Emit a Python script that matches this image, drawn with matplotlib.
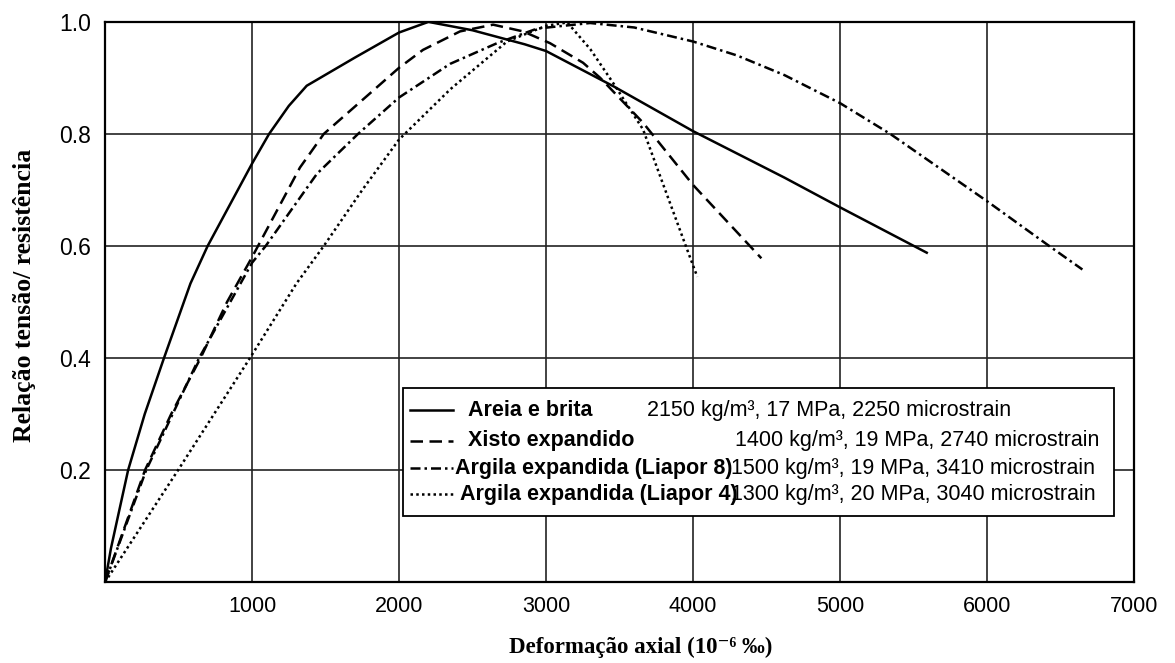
import matplotlib
matplotlib.use("Agg")
import matplotlib.pyplot as plt
from matplotlib.patches import Rectangle
from matplotlib.lines import Line2D

# Areia e brita
x_areia = [0, 40, 90, 157, 270, 401, 581, 698, 1000, 1116, 1250, 1372, 1698, 2000, 2200,
           2500, 2855, 3000, 3459, 4000, 4622, 5000, 5590]
y_areia = [0, 0.06, 0.12, 0.20, 0.30, 0.40, 0.533, 0.60, 0.747, 0.80, 0.85, 0.886, 0.936, 0.981, 1.0,
           0.985, 0.96, 0.948, 0.885, 0.805, 0.722, 0.669, 0.588]
# Xisto expandido
x_xisto = [0, 272, 450, 650, 830, 1000, 1326, 1488, 2000, 2163, 2415, 2640, 2844,
           3027, 3252, 3369, 3660, 4000, 4465]
y_xisto = [0, 0.20, 0.30, 0.40, 0.50, 0.58, 0.74, 0.80, 0.918, 0.950, 0.983, 0.995, 0.983,
           0.962, 0.927, 0.90, 0.82, 0.709, 0.578]
# Argila expandida (Liapor 8)
x_lia8 = [0, 280, 640, 1000, 1093, 1442, 1721, 2000, 2347, 2667, 2939, 3300, 3600,
          4000, 4300, 4622, 5000, 5342, 6000, 6423, 6649]
y_lia8 = [0, 0.20, 0.40, 0.57, 0.60, 0.729, 0.80, 0.865, 0.925, 0.962, 0.988, 0.998, 0.99,
          0.965, 0.94, 0.905, 0.855, 0.80, 0.68, 0.60, 0.558]
# Argila expandida (Liapor 4)
x_lia4 = [0, 497, 986, 1302, 1488, 1750, 2000, 2350, 2735, 3000, 3145, 3302, 3459, 3660,
          3794, 3951, 4029]
y_lia4 = [0, 0.20, 0.40, 0.533, 0.60, 0.70, 0.79, 0.88, 0.965, 0.993, 0.999, 0.951, 0.89, 0.808,
          0.712, 0.60, 0.545]

names = ["Areia e brita", "Xisto expandido", "Argila expandida (Liapor 8)",
         "Argila expandida (Liapor 4)"]
props = ["2150 kg/m³, 17 MPa, 2250 microstrain", "1400 kg/m³, 19 MPa, 2740 microstrain",
         "1500 kg/m³, 19 MPa, 3410 microstrain", "1300 kg/m³, 20 MPa, 3040 microstrain"]
xticks = [1000, 2000, 3000, 4000, 5000, 6000, 7000]
yticks = [0.2, 0.4, 0.6, 0.8, 1.0]

styles = ["-", (0, (5, 2.6)), (0, (4, 1.6, 1, 1.6)), (0, (1, 1.3))]
sans = ["Liberation Sans", "DejaVu Sans"]
serif = ["Liberation Serif", "DejaVu Serif"]

fig = plt.figure(figsize=(11.75, 6.63), dpi=100, facecolor="white")
ax = fig.add_axes([0.0894, 0.122, 0.8757, 0.845])

series = [(x_areia, y_areia), (x_xisto, y_xisto), (x_lia8, y_lia8), (x_lia4, y_lia4)]
for (xs, ys), ls in zip(series, styles):
    ax.plot(xs, ys, color="black", lw=1.8, ls=ls, zorder=3)

ax.set_xlim(0, 7000); ax.set_ylim(0, 1.0)
ax.set_xticks(xticks); ax.set_yticks(yticks)
ax.set_xticklabels([str(t) for t in xticks], family=sans, fontsize=15.5)
ax.set_yticklabels([f"{t:.1f}" for t in yticks], family=sans, fontsize=16.5)
ax.tick_params(length=0, pad=10)
ax.grid(True, color="#222222", lw=1.2)
for s in ax.spines.values():
    s.set_linewidth(1.6)

fig.text(641/1175, 1 - 647/663, "Deformação axial (10⁻⁶ ‰)", family=serif, fontweight="bold",
         fontsize=16.5, ha="center", va="center")
fig.text(25/1175, 1 - 295/663, "Relação tensão/ resistência", family=serif, fontweight="bold",
         fontsize=18.5, ha="center", va="center", rotation=90)

# legend box drawn by hand so the two text columns line up like the original
ax.add_patch(Rectangle((0.290, 0.118), 0.691, 0.228, transform=ax.transAxes,
                       facecolor="white", edgecolor="black", lw=1.3, zorder=5))
rows = [0.307, 0.252, 0.203, 0.157]
lab_x = [0.353, 0.353, 0.340, 0.345]
prop_x = [0.527, 0.612, 0.608, 0.608]
for i, (ls, nm, pr) in enumerate(zip(styles, names, props)):
    y = rows[i]
    ax.add_line(Line2D([0.296, 0.338], [y, y], transform=ax.transAxes, color="black",
                       lw=1.8, ls=ls, zorder=6))
    ax.text(lab_x[i], y, nm, transform=ax.transAxes, va="center", ha="left",
            family=sans, fontweight="bold", fontsize=15.5, zorder=7)
    ax.text(prop_x[i], y, pr, transform=ax.transAxes, va="center", ha="left",
            family=sans, fontsize=15.5, zorder=7)

fig.savefig("out.png", dpi=100, facecolor="white")
